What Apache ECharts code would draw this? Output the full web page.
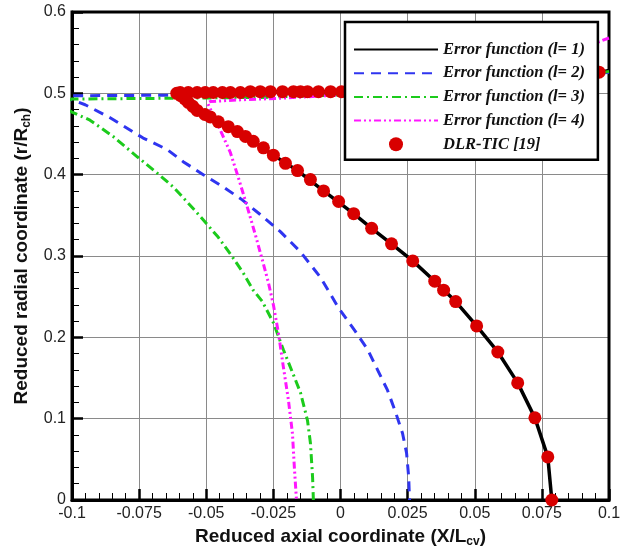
<!DOCTYPE html>
<html><head><meta charset="utf-8">
<script src="https://cdn.jsdelivr.net/npm/echarts@6/dist/echarts.min.js"></script>
<style>html,body{margin:0;padding:0;background:#fff}#c{width:625px;height:553px}</style>
</head><body><div id="c"></div>
<script>
// ---- Data ----
const xTicks = [-0.1, -0.075, -0.05, -0.025, 0, 0.025, 0.05, 0.075, 0.1];
const yTicks = [0, 0.1, 0.2, 0.3, 0.4, 0.5, 0.6];
const seriesNames = ['Error function (l= 1)', 'Error function (l= 2)', 'Error function (l= 3)', 'Error function (l= 4)', 'DLR-TIC [19]'];

// l = 1 (black solid)
const l1X = [0.1, 0.09, 0.08, 0.07, 0.06, 0.05, 0.04, 0.03, 0.02, 0.01, 0, -0.01, -0.02, -0.03, -0.04, -0.05, -0.058, -0.061,
  -0.0585, -0.0534, -0.0455, -0.0384, -0.0325, -0.025, -0.016, -0.0063, 0.0049, 0.0116, 0.019, 0.0269, 0.0351, 0.0429, 0.0507, 0.0586, 0.066, 0.0724, 0.0772, 0.0787];
const l1Y = [0.528, 0.521, 0.515, 0.511, 0.508, 0.506, 0.504, 0.503, 0.502, 0.502, 0.502, 0.502, 0.502, 0.502, 0.502, 0.502, 0.502, 0.501,
  0.494, 0.478, 0.465, 0.453, 0.441, 0.424, 0.405, 0.380, 0.352, 0.334, 0.315, 0.294, 0.269, 0.244, 0.214, 0.182, 0.144, 0.101, 0.053, 0.0];

// l = 2 (blue dashed)
const l2X = [0.1, 0.05, 0, -0.05, -0.1, -0.106,
  -0.1, -0.0951, -0.0858, -0.0735, -0.0646, -0.0586, -0.0511, -0.0437, -0.0366, -0.0299, -0.0224, -0.0149, -0.0075, -0.0007, 0.0056, 0.0101, 0.0138, 0.0175, 0.0205, 0.0231, 0.0246, 0.0254, 0.0257];
const l2Y = [0.526, 0.505, 0.500, 0.498, 0.497, 0.495,
  0.492, 0.486, 0.470, 0.445, 0.431, 0.416, 0.400, 0.385, 0.369, 0.351, 0.330, 0.305, 0.274, 0.236, 0.207, 0.185, 0.160, 0.135, 0.108, 0.082, 0.058, 0.028, 0.0];

// l = 3 (green dash-dot)
const l3X = [0.1, 0.08, 0.05, 0.02, 0, -0.03, -0.06, -0.1, -0.106,
  -0.1, -0.0933, -0.0847, -0.0757, -0.0683, -0.0623, -0.0534, -0.0455, -0.0403, -0.0362, -0.0325, -0.0291, -0.025, -0.0213, -0.0179, -0.0149, -0.0123, -0.0112, -0.0104, -0.0101];
const l3Y = [0.527, 0.515, 0.505, 0.500, 0.498, 0.495, 0.494, 0.493, 0.487,
  0.477, 0.467, 0.447, 0.422, 0.402, 0.385, 0.353, 0.323, 0.299, 0.279, 0.258, 0.244, 0.218, 0.185, 0.157, 0.132, 0.098, 0.070, 0.028, 0.0];

// l = 4 (magenta dash-dot-dot)
const l4X = [0.1, 0.0959, 0.082, 0.067, 0.0448, 0.0224, 0, -0.0224, -0.0373, -0.0485, -0.0495,
  -0.0448, -0.0410, -0.0381, -0.0347, -0.0317, -0.0291, -0.0269, -0.025, -0.0231, -0.0213, -0.0194, -0.0179, -0.0172, -0.0164];
const l4Y = [0.568, 0.563, 0.551, 0.535, 0.517, 0.504, 0.498, 0.494, 0.492, 0.490, 0.488,
  0.455, 0.427, 0.397, 0.360, 0.326, 0.295, 0.268, 0.240, 0.205, 0.164, 0.123, 0.082, 0.041, 0.0];

// DLR-TIC [19] (red dots)
const dlrX = [0.0963, 0.088, 0.081, 0.074, 0.066, 0.058, 0.05, 0.042, 0.034, 0.026, 0.019, 0.012, 0.006,
  0.0004, -0.0037, -0.0082, -0.0123, -0.0149, -0.0175, -0.0216, -0.0261, -0.0299, -0.0336, -0.0373, -0.041, -0.044, -0.0474, -0.0504, -0.0534, -0.0567, -0.0597,
  -0.061,
  -0.0595, -0.058, -0.0567, -0.055, -0.0534, -0.0505, -0.0485, -0.0455, -0.0418, -0.0384, -0.0354, -0.0325, -0.0287, -0.025, -0.0205, -0.016, -0.0112, -0.0063, -0.0007, 0.0049, 0.0116, 0.019, 0.0269, 0.0351, 0.0384, 0.0429, 0.0507, 0.0586, 0.066, 0.0724, 0.0772, 0.0787];
const dlrY = [0.526, 0.521, 0.517, 0.514, 0.511, 0.509, 0.507, 0.505, 0.504, 0.503, 0.503, 0.502, 0.502,
  0.502, 0.502, 0.502, 0.502, 0.502, 0.502, 0.502, 0.502, 0.502, 0.502, 0.501, 0.501, 0.501, 0.501, 0.501, 0.501, 0.501, 0.501,
  0.500,
  0.497, 0.493, 0.489, 0.484, 0.479, 0.474, 0.471, 0.465, 0.459, 0.453, 0.447, 0.441, 0.433, 0.424, 0.414, 0.405, 0.394, 0.380, 0.367, 0.352, 0.334, 0.315, 0.294, 0.269, 0.258, 0.244, 0.214, 0.182, 0.144, 0.101, 0.053, 0.0];

const zip = (xs, ys) => xs.map((x, i) => [x, ys[i]]);

const chart = echarts.init(document.getElementById('c'), null, {renderer: 'canvas'});
const sans = 'Liberation Sans, Arial, sans-serif';
const serif = 'Liberation Serif, Times New Roman, serif';

function lineSeries(name, xs, ys, color, type, z, w) {
  return {
    name: name, type: 'line', data: zip(xs, ys), symbol: 'none', showSymbol: false,
    smooth: false, clip: true, z: z,
    lineStyle: {color: color, width: w, type: type, cap: 'butt'},
    itemStyle: {color: color}
  };
}

const hiddenSym = {color: 'rgba(0,0,0,0)', borderWidth: 0, opacity: 0};

chart.setOption({
  animation: false,
  backgroundColor: '#fff',
  grid: {left: 72, right: 16, top: 12, bottom: 53, show: true, borderColor: '#000', borderWidth: 3, backgroundColor: 'transparent', z: 3},
  xAxis: {
    type: 'value', min: xTicks[0], max: xTicks[xTicks.length - 1], interval: 0.025,
    name: 'Reduced axial coordinate (X/L{sub|cv})', nameLocation: 'middle', nameGap: 26,
    nameTextStyle: {fontSize: 19, fontWeight: 'bold', color: '#111', fontFamily: sans,
      rich: {sub: {fontSize: 12, fontWeight: 'bold', color: '#111', fontFamily: sans, padding: [10, 0, 0, 0]}}},
    axisLine: {show: true, onZero: false, lineStyle: {color: '#000', width: 3}},
    axisTick: {show: true, inside: true, length: 11, lineStyle: {color: '#000', width: 2.5}},
    minorTick: {show: true, splitNumber: 5, length: 7, lineStyle: {color: '#000', width: 1}},
    splitLine: {show: true, lineStyle: {color: '#8a8a8a', width: 1}},
    axisLabel: {fontSize: 16, color: '#222', fontFamily: sans, margin: 6}
  },
  yAxis: {
    type: 'value', min: yTicks[0], max: yTicks[yTicks.length - 1], interval: 0.1,
    name: 'Reduced radial coordinate (r/R{sub|ch})', nameLocation: 'middle', nameGap: 37,
    nameTextStyle: {fontSize: 19, fontWeight: 'bold', color: '#111', fontFamily: sans,
      rich: {sub: {fontSize: 12, fontWeight: 'bold', color: '#111', fontFamily: sans, padding: [10, 0, 0, 0]}}},
    axisLine: {show: true, onZero: false, lineStyle: {color: '#000', width: 3}},
    axisTick: {show: true, inside: true, length: 11, lineStyle: {color: '#000', width: 2.5}},
    minorTick: {show: true, splitNumber: 5, length: 7, lineStyle: {color: '#000', width: 1}},
    splitLine: {show: true, lineStyle: {color: '#8a8a8a', width: 1}},
    axisLabel: {fontSize: 16, color: '#222', fontFamily: sans, margin: 6}
  },
  legend: {
    show: true, orient: 'vertical', left: 345, top: 22,
    padding: [19, 13, 7, 8], itemGap: 6.7, itemWidth: 84, itemHeight: 14,
    backgroundColor: '#fff', borderColor: '#000', borderWidth: 2.5, borderRadius: 0,
    z: 10,
    textStyle: {fontSize: 16.5, fontStyle: 'italic', fontWeight: 'bold', color: '#111', fontFamily: serif},
    data: [
      {name: seriesNames[0], itemStyle: hiddenSym},
      {name: seriesNames[1], itemStyle: hiddenSym},
      {name: seriesNames[2], itemStyle: hiddenSym},
      {name: seriesNames[3], itemStyle: hiddenSym},
      {name: seriesNames[4]}
    ]
  },
  series: [
    lineSeries(seriesNames[0], l1X, l1Y, '#000000', 'solid', 2, 3.5),
    lineSeries(seriesNames[1], l2X, l2Y, '#2f35f0', [10, 7], 3, 3),
    lineSeries(seriesNames[2], l3X, l3Y, '#1ccb1c', [9, 4, 2, 4], 3, 3),
    lineSeries(seriesNames[3], l4X, l4Y, '#ff16ff', [7, 3, 2, 3, 2, 3], 3, 3),
    {
      name: seriesNames[4], type: 'scatter', data: zip(dlrX, dlrY), symbol: 'circle', symbolSize: 13, z: 4, clip: true,
      itemStyle: {color: '#d80000', opacity: 1}
    }
  ]
});
</script></body></html>
